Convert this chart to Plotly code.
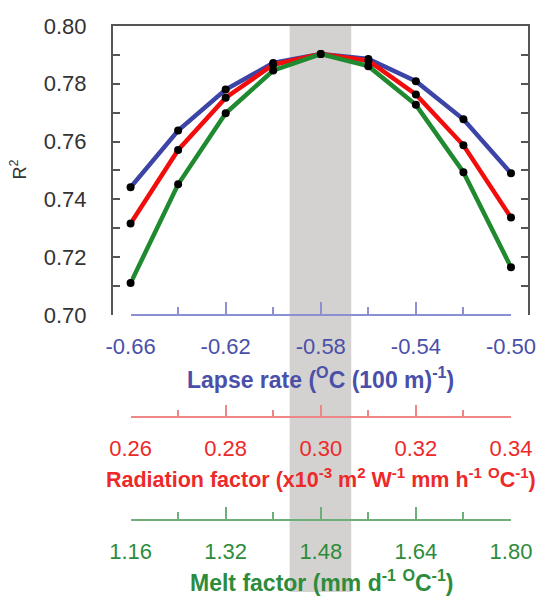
import plotly.graph_objects as go

# ======================
# DATA
# ======================
lapse_rate = [-0.66, -0.64, -0.62, -0.60, -0.58, -0.56, -0.54, -0.52, -0.50]
radiation_factor = [0.26, 0.27, 0.28, 0.29, 0.30, 0.31, 0.32, 0.33, 0.34]
melt_factor = [1.16, 1.24, 1.32, 1.40, 1.48, 1.56, 1.64, 1.72, 1.80]

r2_lapse = [0.7442, 0.7638, 0.7780, 0.7872, 0.7903, 0.7886, 0.7809, 0.7677, 0.7490]
r2_radiation = [0.7316, 0.7571, 0.7752, 0.7866, 0.7903, 0.7880, 0.7763, 0.7587, 0.7337]
r2_melt = [0.7110, 0.7452, 0.7698, 0.7846, 0.7903, 0.7861, 0.7727, 0.7494, 0.7165]

lapse_labels = ["-0.66", "-0.62", "-0.58", "-0.54", "-0.50"]
radiation_labels = ["0.26", "0.28", "0.30", "0.32", "0.34"]
melt_labels = ["1.16", "1.32", "1.48", "1.64", "1.80"]

r2_ticks = [0.70, 0.72, 0.74, 0.76, 0.78, 0.80]
r2_minor = [0.71, 0.73, 0.75, 0.77, 0.79]

# optimal range (grey band), in lapse-rate units
best_band = [-0.5931, -0.5672]

FONT = "Liberation Sans, Arial, sans-serif"
FRAME = "#555555"

series = [
    # x values, y values, axis, line colour, axis colour, label colour, tick text
    (lapse_rate, r2_lapse, "x2", "#3c44a6", "#8c90d2", "#4a50aa", lapse_labels),
    (radiation_factor, r2_radiation, "x3", "#f20c0c", "#ee8888", "#ec2a2a", radiation_labels),
    (melt_factor, r2_melt, "x4", "#1f8a2f", "#6daf78", "#2d8c3c", melt_labels),
]

fig = go.Figure()

for xs, ys, ax, col, _, _, _ in series:
    fig.add_trace(go.Scatter(
        x=xs, y=ys, xaxis=ax, yaxis="y",
        mode="lines+markers",
        line=dict(color=col, width=4.5),
        marker=dict(color="black", size=8),
        cliponaxis=False,
        showlegend=False,
    ))

# grey band through the plot and all the axes below
fig.add_shape(
    type="rect", xref="x", yref="paper",
    x0=best_band[0], x1=best_band[1], y0=0, y1=1,
    fillcolor="#d4d2d0", line_width=0, layer="below",
)

# ======================
# AXES
# ======================
dom = [(123.3 - 105) / 432, (519.3 - 105) / 432]
positions = [0.4896, 0.3086, 0.1273]

layout_axes = {}
for i, (xs, ys, ax, col, axcol, labcol, labels) in enumerate(series):
    name = "xaxis" + ax[1:]
    layout_axes[name] = dict(
        domain=dom, range=[xs[0], xs[-1]],
        anchor="free", position=positions[i], side="bottom",
        showline=True, linecolor=axcol, linewidth=1.5,
        ticks="inside", ticklen=12, tickwidth=1.5, tickcolor=axcol,
        tickmode="array", tickvals=xs[::2], ticktext=labels,
        minor=dict(tickmode="array", tickvals=xs, ticks="inside",
                   ticklen=7, tickwidth=1.5, tickcolor=axcol),
        tickfont=dict(family=FONT, size=22, color=labcol),
        ticklabelstandoff=12,
        showgrid=False, zeroline=False, fixedrange=True,
    )

fig.update_layout(
    width=545, height=597,
    margin=dict(l=105, r=8, t=18, b=0),
    paper_bgcolor="white", plot_bgcolor="rgba(0,0,0,0)",
    xaxis=dict(
        domain=[0, 1], range=[-0.6674, -0.49285], anchor="y", side="top",
        showline=True, linecolor=FRAME, linewidth=2,
        ticks="", showticklabels=False, showgrid=False, zeroline=False,
    ),
    yaxis=dict(
        domain=[0.4896, 1], range=[0.70, 0.80], anchor="x",
        showline=True, linecolor=FRAME, linewidth=2, mirror="ticks",
        ticks="inside", ticklen=7, tickwidth=2, tickcolor=FRAME,
        tickmode="array", tickvals=r2_ticks, ticktext=["%.2f" % v for v in r2_ticks],
        minor=dict(tickmode="array", tickvals=r2_minor, ticks="inside",
                   ticklen=7, tickwidth=2, tickcolor=FRAME),
        tickfont=dict(family=FONT, size=22, color="#333333"),
        ticklabelstandoff=20,
        showgrid=False, zeroline=False,
    ),
    **layout_axes,
)

titles = [
    ("<b>Lapse rate (<sup>O</sup>C (100 m)<sup>-1</sup>)</b>", 0.5012, 0.3782, "#4a50aa", 23),
    ("<b>Radiation factor (x10<sup>-3</sup> m<sup>2</sup> W<sup>-1</sup> mm h<sup>-1</sup> "
     "<sup>O</sup>C<sup>-1</sup>)</b>", 0.5016, 0.2021, "#ec2a2a", 21.5),
    ("<b>Melt factor (mm d<sup>-1</sup> <sup>O</sup>C<sup>-1</sup>)</b>", 0.5035, 0.0190, "#2d8c3c", 23),
]
for text, x, y, col, size in titles:
    fig.add_annotation(
        text=text, x=x, y=y, xref="paper", yref="paper",
        xanchor="center", yanchor="middle", showarrow=False,
        font=dict(family=FONT, size=size, color=col),
    )

fig.add_annotation(
    text="R<sup>2</sup>", x=-0.228, y=0.747, xref="paper", yref="paper",
    xanchor="center", yanchor="middle", showarrow=False, textangle=-90,
    font=dict(family=FONT, size=18, color="#333333"),
)

fig.write_html("out.html")
